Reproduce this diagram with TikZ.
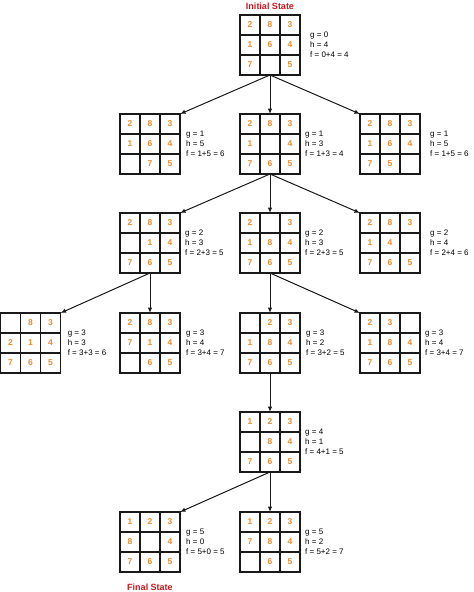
\documentclass[tikz,border=0pt]{standalone}
\usepackage{fontspec}
\setmainfont{Liberation Sans}
\usetikzlibrary{arrows.meta}
\definecolor{numorange}{RGB}{235,140,45}
\definecolor{titlered}{RGB}{200,25,30}
\tikzset{
 board/.style={draw=black!90, line width=1.2pt, minimum size=60pt, inner sep=0pt, outer sep=0pt},
 cellline/.style={draw=black!90, line width=1.2pt},
 num/.style={text=numorange, font=\fontsize{8.5}{10}\selectfont\bfseries, inner sep=0pt},
 info/.style={font=\fontsize{8}{10}\selectfont, align=left, inner sep=0pt, anchor=west},
 title/.style={text=titlered, font=\fontsize{9}{11}\selectfont\bfseries, inner sep=0pt},
 move/.style={draw=black!90, line width=1pt, -{Latex[length=5.5pt,width=4.5pt]}},
}
\newcommand\puzz[8]{%
 \node[board] (#1) at (#2+30,#3+30) {};
 \draw[cellline] (#2+20,#3) -- (#2+20,#3+60) (#2+40,#3) -- (#2+40,#3+60)
   (#2,#3+20) -- (#2+60,#3+20) (#2,#3+40) -- (#2+60,#3+40);
 \foreach \v [count=\i from 0] in {#5} {
   \pgfmathtruncatemacro\cc{mod(\i,3)}
   \pgfmathtruncatemacro\rr{\i/3}
   \node[num] (#1-\i) at (#2+10+20*\cc,#3+10+20*\rr) {\v};
 }
 \node[info] (#1-info) at (#2+60+#4,#3+30) {g = #6\\h = #7\\f = #8};
}
\begin{document}
\begin{tikzpicture}[x=1pt,y=-1pt]
\useasboundingbox (0,0) rectangle (474,592);
\node[title] (initial) at (270,6) {Initial State};
\puzz{g0}{240}{15}{10}{2,8,3,1,6,4,7,{},5}{0}{4}{0+4 = 4}
\puzz{a1}{120}{114}{6}{2,8,3,1,6,4,{},7,5}{1}{5}{1+5 = 6}
\puzz{a2}{240}{114}{5}{2,8,3,1,{},4,7,6,5}{1}{3}{1+3 = 4}
\puzz{a3}{360}{114}{10}{2,8,3,1,6,4,7,5,{}}{1}{5}{1+5 = 6}
\puzz{b1}{120}{213}{5}{2,8,3,{},1,4,7,6,5}{2}{3}{2+3 = 5}
\puzz{b2}{240}{213}{5}{2,{},3,1,8,4,7,6,5}{2}{3}{2+3 = 5}
\puzz{b3}{360}{213}{10}{2,8,3,1,4,{},7,6,5}{2}{4}{2+4 = 6}
\puzz{c1}{0.6}{313}{7}{{},8,3,2,1,4,7,6,5}{3}{3}{3+3 = 6}
\puzz{c2}{120}{313}{6}{2,8,3,7,1,4,{},6,5}{3}{4}{3+4 = 7}
\puzz{c3}{240}{313}{6}{{},2,3,1,8,4,7,6,5}{3}{2}{3+2 = 5}
\puzz{c4}{360}{313}{5}{2,3,{},1,8,4,7,6,5}{3}{4}{3+4 = 7}
\puzz{d1}{240}{412}{5}{1,2,3,{},8,4,7,6,5}{4}{1}{4+1 = 5}
\puzz{e1}{120}{512}{6}{1,2,3,8,{},4,7,6,5}{5}{0}{5+0 = 5}
\puzz{e2}{240}{512}{5}{1,2,3,7,8,4,{},6,5}{5}{2}{5+2 = 7}
\node[title] (final) at (150,587) {Final State};
\draw[move] (g0.south) -- (a1.north east);
\draw[move] (g0.south) -- (a2.north);
\draw[move] (g0.south) -- (a3.north west);
\draw[move] (a2.south) -- (b1.north east);
\draw[move] (a2.south) -- (b2.north);
\draw[move] (a2.south) -- (b3.north west);
\draw[move] (b1.south) -- (c1.north east);
\draw[move] (b1.south) -- (c2.north);
\draw[move] (b2.south) -- (c3.north);
\draw[move] (b2.south) -- (c4.north west);
\draw[move] (c3.south) -- (d1.north);
\draw[move] (d1.south) -- (e1.north east);
\draw[move] (d1.south) -- (e2.north);
\end{tikzpicture}
\end{document}
